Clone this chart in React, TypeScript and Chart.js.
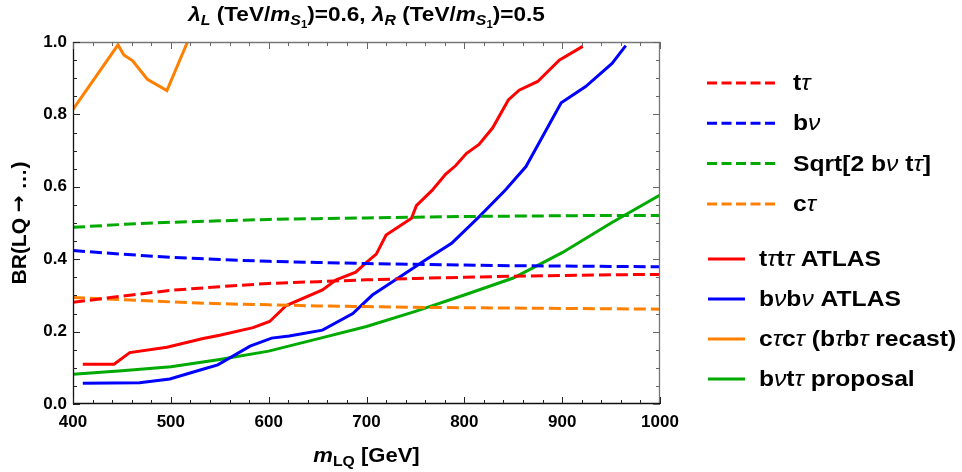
import React, { useEffect, useRef } from "react";
import { Chart, registerables } from "chart.js";
Chart.register(...registerables);

const FONT = "'Liberation Sans', Arial, Helvetica, sans-serif";

// ---- data ----
const massGrid = [400, 450, 500, 550, 600, 650, 700, 750, 800, 850, 900, 950, 1000];
const brTTau = [0.281, 0.298, 0.314, 0.324, 0.333, 0.338, 0.343, 0.347, 0.350, 0.353, 0.355, 0.357, 0.358];
const brBNu = [0.424, 0.414, 0.405, 0.399, 0.394, 0.391, 0.388, 0.386, 0.384, 0.382, 0.381, 0.380, 0.379];
const brSqrt = [0.488, 0.496, 0.502, 0.506, 0.510, 0.512, 0.514, 0.516, 0.518, 0.519, 0.520, 0.521, 0.521];
const brCTau = [0.294, 0.288, 0.282, 0.277, 0.274, 0.271, 0.269, 0.267, 0.266, 0.265, 0.264, 0.263, 0.262];

const atlasTTauX = [410, 442, 458, 496, 533, 550, 584, 601, 618, 655, 669, 689, 700, 710, 720, 746, 751, 767, 781, 791, 802, 815, 829, 845, 856, 875, 897, 921];
const atlasTTauY = [0.110, 0.110, 0.142, 0.157, 0.181, 0.190, 0.211, 0.228, 0.272, 0.315, 0.343, 0.364, 0.391, 0.414, 0.467, 0.513, 0.548, 0.590, 0.635, 0.658, 0.692, 0.717, 0.763, 0.840, 0.867, 0.891, 0.950, 0.988];

const atlasBNuX = [410, 468, 499, 530, 548, 581, 603, 621, 655, 686, 706, 734, 761, 787, 815, 842, 863, 878, 899, 924, 951, 965];
const atlasBNuY = [0.057, 0.059, 0.069, 0.094, 0.108, 0.160, 0.182, 0.188, 0.204, 0.250, 0.301, 0.351, 0.399, 0.444, 0.517, 0.591, 0.656, 0.729, 0.832, 0.877, 0.941, 0.990];

const recastCTauX = [400, 446, 452, 461, 476, 496, 517];
const recastCTauY = [0.814, 0.992, 0.964, 0.948, 0.897, 0.866, 1.0];

const proposalX = [400, 450, 500, 550, 600, 650, 700, 750, 800, 850, 900, 950, 1000];
const proposalY = [0.082, 0.092, 0.103, 0.123, 0.146, 0.180, 0.214, 0.256, 0.301, 0.348, 0.418, 0.500, 0.577];

const xTickStep = 100;
const yTickStep = 0.2;

const RED = "rgb(255,0,0)";
const BLUE = "rgb(0,0,255)";
const GREEN = "rgb(0,170,0)";
const ORANGE = "rgb(255,128,0)";

const pts = (xs: number[], ys: number[]) => xs.map((x, i) => ({ x, y: ys[i] }));

type Seg = { t: string; size: number; italic?: boolean; bold?: boolean; dy?: number; family?: string };

function fontOf(s: Seg) {
  return `${s.italic ? "italic " : ""}${s.bold === false ? "" : "bold "}${s.size}px ${s.family || FONT}`;
}

function measureSegs(ctx: CanvasRenderingContext2D, segs: Seg[]) {
  let w = 0;
  for (const s of segs) {
    ctx.font = fontOf(s);
    w += ctx.measureText(s.t).width;
  }
  return w;
}

function drawSegs(ctx: CanvasRenderingContext2D, segs: Seg[], x: number, y: number, align: "left" | "center", sx = 1, rotate = 0) {
  ctx.save();
  ctx.translate(x, y);
  if (rotate) ctx.rotate(rotate);
  ctx.scale(sx, 1);
  ctx.textAlign = "left";
  const total = measureSegs(ctx, segs);
  let cx = align === "center" ? -total / 2 : 0;
  for (const s of segs) {
    ctx.font = fontOf(s);
    ctx.fillText(s.t, cx, s.dy || 0);
    cx += ctx.measureText(s.t).width;
  }
  ctx.restore();
}

function labelSegs(text: string, size: number): Seg[] {
  const out: Seg[] = [];
  for (const ch of Array.from(text)) {
    const greek = /[τνλ]/.test(ch);
    const last = out[out.length - 1];
    if (last && !!last.italic === greek) last.t += ch;
    else out.push({ t: ch, size, italic: greek, bold: !greek });
  }
  return out;
}

const decorPlugin = {
  id: "decor",
  afterDraw(chart: any) {
    const ctx: CanvasRenderingContext2D = chart.ctx;
    const { left, right, top, bottom } = chart.chartArea;
    const xs = chart.scales.x;
    const ys = chart.scales.y;
    ctx.save();
    // frame
    ctx.lineWidth = 1.3;
    ctx.strokeStyle = "#777";
    ctx.beginPath();
    ctx.moveTo(left, top + 0.5);
    ctx.lineTo(right, top + 0.5);
    ctx.moveTo(right - 0.5, top);
    ctx.lineTo(right - 0.5, bottom);
    ctx.stroke();
    ctx.strokeStyle = "#111";
    ctx.beginPath();
    ctx.moveTo(left + 0.5, top);
    ctx.lineTo(left + 0.5, bottom);
    ctx.moveTo(left, bottom - 0.5);
    ctx.lineTo(right, bottom - 0.5);
    ctx.stroke();
    // ticks (inward)
    ctx.lineWidth = 1;
    for (let v = 400; v <= 1000; v += 20) {
      const px = Math.round(xs.getPixelForValue(v)) + 0.5;
      const len = v % 100 === 0 ? 7 : 4;
      ctx.strokeStyle = "#222";
      ctx.beginPath();
      ctx.moveTo(px, bottom);
      ctx.lineTo(px, bottom - len);
      ctx.stroke();
      ctx.strokeStyle = "#666";
      ctx.beginPath();
      ctx.moveTo(px, top);
      ctx.lineTo(px, top + len);
      ctx.stroke();
    }
    for (let i = 0; i <= 20; i++) {
      const v = i * 0.05;
      const py = Math.round(ys.getPixelForValue(v)) + 0.5;
      const len = i % 4 === 0 ? 7 : 4;
      ctx.strokeStyle = "#222";
      ctx.beginPath();
      ctx.moveTo(left, py);
      ctx.lineTo(left + len, py);
      ctx.stroke();
      ctx.strokeStyle = "#666";
      ctx.beginPath();
      ctx.moveTo(right, py);
      ctx.lineTo(right - len, py);
      ctx.stroke();
    }

    ctx.fillStyle = "#000";
    ctx.textBaseline = "alphabetic";
    const cxArea = (left + right) / 2;
    // title
    const T = 20;
    const title: Seg[] = [
      { t: "λ", size: T, italic: true },
      { t: "L", size: 14, italic: true, dy: 4 },
      { t: " (TeV/", size: T },
      { t: "m", size: T, italic: true },
      { t: "S", size: 14, italic: true, dy: 4 },
      { t: "1", size: 10, dy: 7 },
      { t: ")=0.6, ", size: T },
      { t: "λ", size: T, italic: true },
      { t: "R", size: 14, italic: true, dy: 4 },
      { t: " (TeV/", size: T },
      { t: "m", size: T, italic: true },
      { t: "S", size: 14, italic: true, dy: 4 },
      { t: "1", size: 10, dy: 7 },
      { t: ")=0.5", size: T },
    ];
    drawSegs(ctx, title, cxArea, 21, "center", 1.13);
    // x label
    const xl: Seg[] = [
      { t: "m", size: 21, italic: true },
      { t: "LQ", size: 15, dy: 4 },
      { t: " [GeV]", size: 21 },
    ];
    drawSegs(ctx, xl, cxArea, 462, "center", 1.05);
    // y label
    ctx.textBaseline = "middle";
    drawSegs(
      ctx,
      [
        { t: "BR(LQ ", size: 21 },
        { t: "→", size: 20, family: "'DejaVu Sans', sans-serif" },
        { t: " …)", size: 21 },
      ],
      20,
      (top + bottom) / 2,
      "center",
      1.0,
      -Math.PI / 2
    );

    // legend
    const ds = chart.data.datasets;
    let di = 0,
      si = 0;
    for (const d of ds) {
      const dashed = d.borderDash && d.borderDash.length > 0;
      ctx.strokeStyle = d.borderColor;
      ctx.lineWidth = 3;
      if (dashed) {
        const y = 83 + di * 40.3;
        ctx.setLineDash([10, 4.5]);
        ctx.beginPath();
        ctx.moveTo(707, y);
        ctx.lineTo(777, y);
        ctx.stroke();
        ctx.setLineDash([]);
        drawSegs(ctx, labelSegs(d.label, 22), 793, y + 1, "left", 1.12);
        di++;
      } else {
        const y = 259 + si * 40;
        ctx.beginPath();
        ctx.moveTo(708, y);
        ctx.lineTo(745, y);
        ctx.stroke();
        drawSegs(ctx, labelSegs(d.label, 22), 759, y + 1, "left", 1.12);
        si++;
      }
    }
    ctx.restore();
  },
};

export default function App() {
  const ref = useRef<HTMLCanvasElement | null>(null);
  useEffect(() => {
    if (!ref.current) return;
    const dashed = (label: string, color: string, ys: number[]) => ({
      label,
      data: pts(massGrid, ys),
      borderColor: color,
      backgroundColor: color,
      borderWidth: 3,
      borderDash: [12, 5],
      pointRadius: 0,
      fill: false,
      tension: 0,
    });
    const solid = (label: string, color: string, xs: number[], ys: number[]) => ({
      label,
      data: pts(xs, ys),
      borderColor: color,
      backgroundColor: color,
      borderWidth: 3,
      borderDash: [],
      pointRadius: 0,
      fill: false,
      tension: 0,
    });
    const chart = new Chart(ref.current, {
      type: "line",
      data: {
        datasets: [
          dashed("tτ", RED, brTTau),
          dashed("bν", BLUE, brBNu),
          dashed("Sqrt[2 bν tτ]", GREEN, brSqrt),
          dashed("cτ", ORANGE, brCTau),
          solid("tτtτ ATLAS", RED, atlasTTauX, atlasTTauY),
          solid("bνbν ATLAS", BLUE, atlasBNuX, atlasBNuY),
          solid("cτcτ (bτbτ recast)", ORANGE, recastCTauX, recastCTauY),
          solid("bνtτ proposal", GREEN, proposalX, proposalY),
        ] as any,
      },
      options: {
        animation: false,
        responsive: false,
        devicePixelRatio: 1,
        layout: { padding: { top: 42, right: 302, left: 0, bottom: 0 } },
        plugins: { legend: { display: false }, tooltip: { enabled: false }, title: { display: false } },
        scales: {
          x: {
            type: "linear",
            min: 400,
            max: 1000,
            grid: { display: false },
            border: { display: false },
            ticks: {
              stepSize: xTickStep,
              autoSkip: false,
              maxRotation: 0,
              padding: 0,
              color: "#000",
              font: { family: FONT, size: 17, weight: "bold" },
              callback: (v: any) => String(v),
            },
            afterFit: (s: any) => {
              s.height = 68;
            },
          },
          y: {
            type: "linear",
            min: 0,
            max: 1,
            grid: { display: false },
            border: { display: false },
            ticks: {
              stepSize: yTickStep,
              padding: -2,
              color: "#000",
              font: { family: FONT, size: 17, weight: "bold" },
              callback: (v: any) => Number(v).toFixed(1),
            },
            afterFit: (s: any) => {
              s.width = 73;
            },
          },
        },
      } as any,
      plugins: [decorPlugin],
    });
    return () => chart.destroy();
  }, []);
  return (
    <div style={{ position: "fixed", left: 0, top: 0, width: 962, height: 472, background: "#fff" }}>
      <canvas ref={ref} width={962} height={472} style={{ display: "block" }} />
    </div>
  );
}
